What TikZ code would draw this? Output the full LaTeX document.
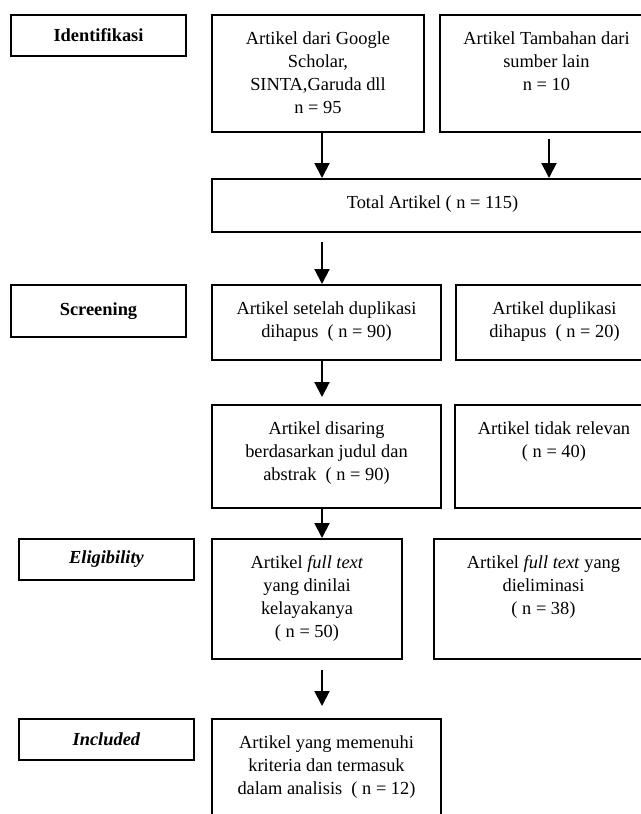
\documentclass[tikz,border=0pt]{standalone}
\usepackage{fontspec}
\setmainfont{Liberation Serif}
\usetikzlibrary{arrows.meta}

\newlength{\pxunit}
\setlength{\pxunit}{0.5pt}
\newcommand{\boxtext}[3]{\parbox[c][#2\pxunit][t]{#1\pxunit}{\centering\rule{0pt}{14.5pt}#3}}

\tikzstyle{stage} = [rectangle, draw, line width=1pt, font=\fontsize{9.2}{11.5}\selectfont\bfseries, minimum width=87.5pt, inner sep=0pt, anchor=north west]
\tikzstyle{box} = [rectangle, draw, line width=1pt, inner sep=0pt, anchor=north west]
\tikzstyle{flow} = [line width=1pt, -{Triangle[width=7.5pt,length=7.5pt]}]

\begin{document}
\begin{tikzpicture}[x=0.5pt, y=-0.5pt, font=\fontsize{9.2}{11.5}\selectfont]
        \useasboundingbox (0,0) rectangle (641,814);
        \clip (0,0) rectangle (641,814);
        \coordinate (spine) at (322,0);
        \coordinate (side) at (549,0);

        % stages
        \node[stage, minimum height=20.5pt] (ident) at (10,14) {Identifikasi};
        \node[stage, minimum height=26pt] (screen) at (10,284) {Screening};
        \node[stage, minimum height=20.5pt] (elig) at (18,538) {\textit{Eligibility}};
        \node[stage, minimum height=20.5pt] (incl) at (18,718) {\textit{Included}};

        % articles
        \node[box] (google) at (211,14) {\boxtext{212}{117}{Artikel dari Google\\ Scholar,\\ SINTA,Garuda dll\\ n = 95}};
        \node[box] (extra) at (439,14) {\boxtext{213}{117}{Artikel Tambahan dari\\ sumber lain\\ n = 10}};
        \node[box] (total) at (211,178) {\boxtext{441}{53}{Total Artikel ( n = 115)}};
        \node[box] (dedup) at (211,284) {\boxtext{229}{75}{Artikel setelah duplikasi\\ dihapus\ \ ( n = 90)}};
        \node[box] (dupl) at (455,284) {\boxtext{197}{75}{Artikel duplikasi\\ dihapus\ \ ( n = 20)}};
        \node[box] (screened) at (211,404) {\boxtext{229}{103}{Artikel disaring\\ berdasarkan judul dan\\ abstrak\ \ ( n = 90)}};
        \node[box] (irrelevant) at (454,404) {\boxtext{198}{103}{Artikel tidak relevan\\ ( n = 40)}};
        \node[box] (fulltext) at (211,538) {\boxtext{190}{120}{Artikel \textit{full text}\\ yang dinilai\\ kelayakanya\\ ( n = 50)}};
        \node[box] (excluded) at (433,538) {\boxtext{219}{120}{Artikel \textit{full text} yang\\ dieliminasi\\ ( n = 38)}};
        \node[box] (final) at (211,718) {\boxtext{229}{132}{Artikel yang memenuhi\\ kriteria dan termasuk\\ dalam analisis\ \ ( n = 12)}};

        \draw[flow] (google.south -| spine) -- (total.north -| spine);
        \draw[flow, shorten <=3pt] (extra.south -| side) -- (total.north -| side);
        \draw[flow, shorten <=4.5pt] (total.south -| spine) -- (dedup.north -| spine);
        \draw[flow, shorten >=3.5pt] (dedup.south -| spine) -- (screened.north -| spine);
        \draw[flow] (screened.south -| spine) -- (fulltext.north -| spine);
        \draw[flow, shorten <=5pt, shorten >=6pt] (fulltext.south -| spine) -- (final.north -| spine);
    \end{tikzpicture}
\end{document}
